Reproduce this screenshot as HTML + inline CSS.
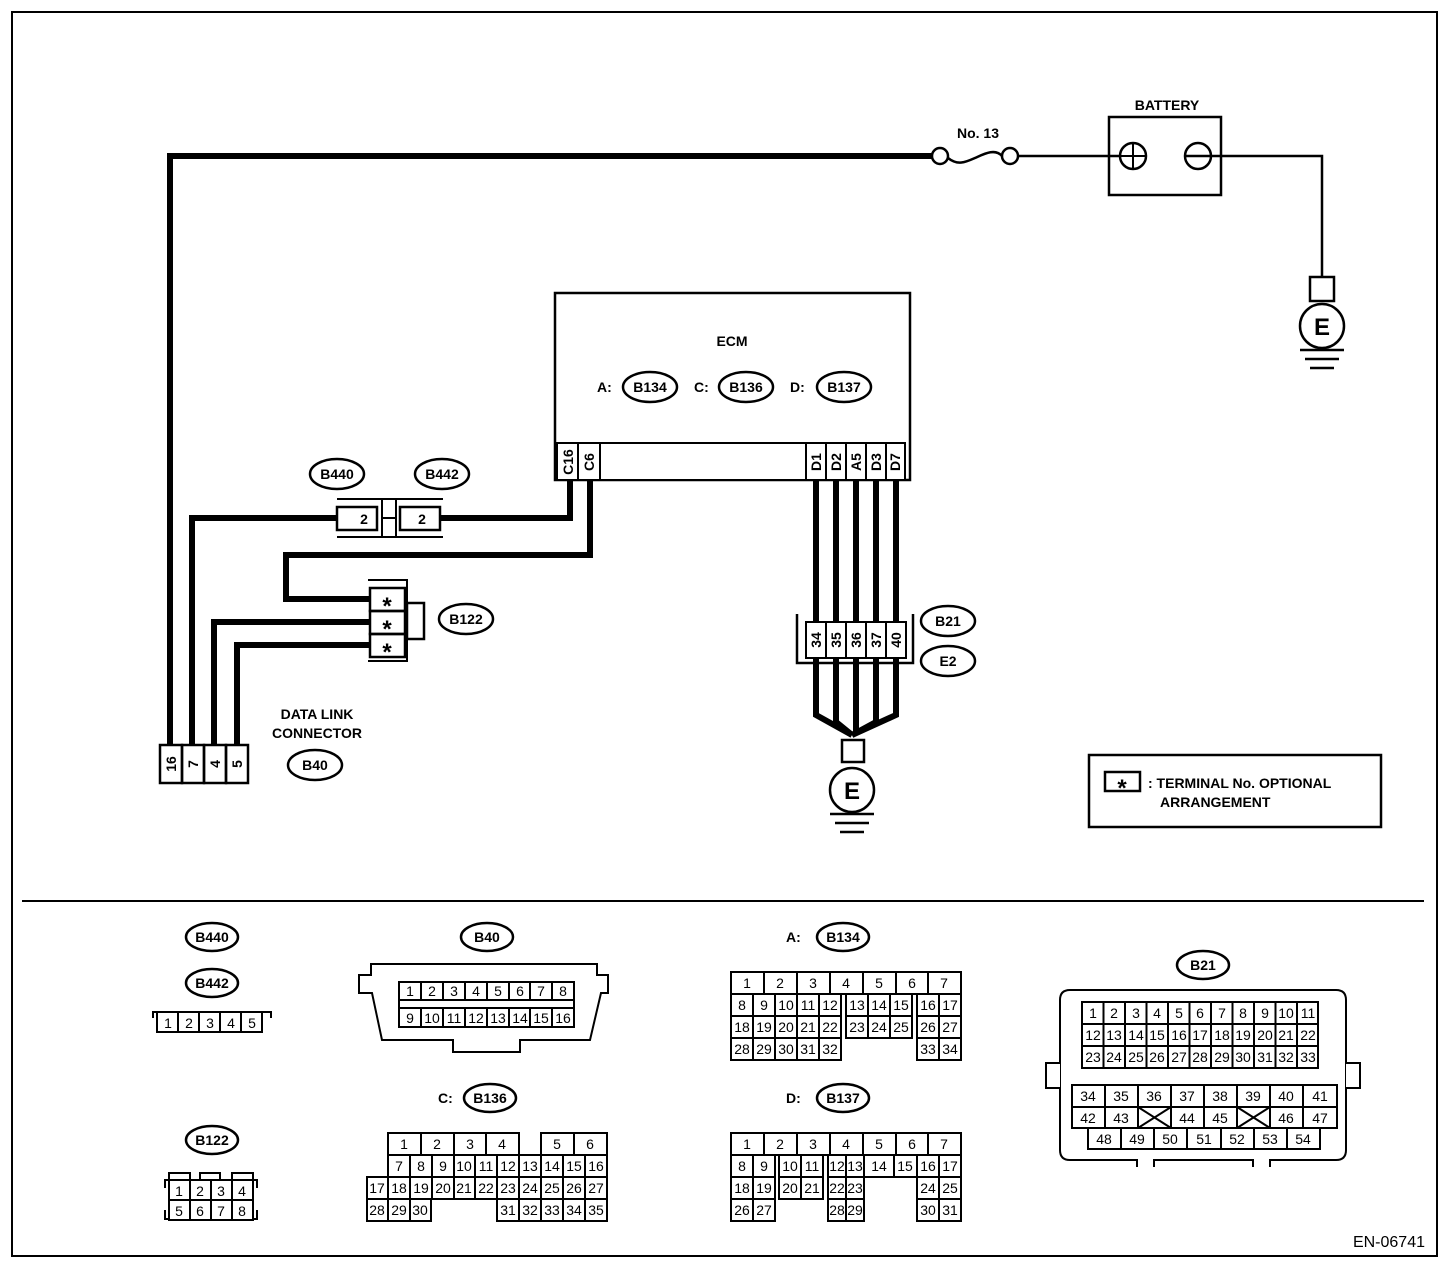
<!DOCTYPE html>
<html><head><meta charset="utf-8"><style>
html,body{margin:0;padding:0;background:#fff}
svg{display:block}
text{font-family:"Liberation Sans",Arial,sans-serif;fill:#000}
.b{font-weight:bold;font-size:14px}
.n{font-size:14px;text-anchor:middle}
.c{fill:#fff;stroke:#000;stroke-width:2}
.o{fill:#fff;stroke:#000;stroke-width:2.5}
.w{fill:none;stroke:#000;stroke-width:6}
.t{fill:none;stroke:#000;stroke-width:2.5}
.s{font-weight:bold;font-size:24px;text-anchor:middle}
</style></head><body>
<svg width="1456" height="1268" viewBox="0 0 1456 1268" xmlns="http://www.w3.org/2000/svg">
<rect x="12" y="12" width="1425" height="1244" fill="none" stroke="#000" stroke-width="2"/>
<line x1="22" y1="901" x2="1424" y2="901" stroke="#000" stroke-width="2"/>

<polyline class="w" points="932,156 170,156 170,745"/>
<circle cx="940" cy="156" r="8" class="o"/>
<circle cx="1010" cy="156" r="8" class="o"/>
<path d="M948,158 C958,166 966,162 975,158 S995,148 1002,156" class="t"/>
<text x="978" y="138" class="b" text-anchor="middle">No. 13</text>
<line x1="1018" y1="156" x2="1120" y2="156" stroke="#000" stroke-width="2.5"/>
<rect x="1109" y="117" width="112" height="78" class="t"/>
<text x="1167" y="110" class="b" text-anchor="middle">BATTERY</text>
<circle cx="1133" cy="156" r="13" class="t"/>
<line x1="1120" y1="156" x2="1146" y2="156" stroke="#000" stroke-width="2"/>
<line x1="1133" y1="143" x2="1133" y2="169" stroke="#000" stroke-width="2"/>
<circle cx="1198" cy="156" r="13" class="t"/>
<polyline points="1185,156 1322,156 1322,277" class="t"/>
<rect x="1310" y="277" width="24" height="24" class="t"/>
<circle cx="1322" cy="326" r="22" class="t"/>
<text x="1322" y="335" font-size="24" font-weight="bold" text-anchor="middle">E</text>
<line x1="1300" y1="350" x2="1344" y2="350" stroke="#000" stroke-width="2.5"/>
<line x1="1305" y1="359" x2="1339" y2="359" stroke="#000" stroke-width="2.5"/>
<line x1="1310" y1="368" x2="1334" y2="368" stroke="#000" stroke-width="2.5"/>

<rect x="555" y="293" width="355" height="187" class="t"/>
<text x="732" y="346" class="b" text-anchor="middle">ECM</text>
<text x="597" y="392" class="b">A:</text>
<ellipse cx="650" cy="387" rx="27" ry="15" class="o"/><text x="650" y="392" class="b" text-anchor="middle">B134</text>
<text x="694" y="392" class="b">C:</text>
<ellipse cx="746" cy="387" rx="27" ry="15" class="o"/><text x="746" y="392" class="b" text-anchor="middle">B136</text>
<text x="790" y="392" class="b">D:</text>
<ellipse cx="844" cy="387" rx="27" ry="15" class="o"/><text x="844" y="392" class="b" text-anchor="middle">B137</text>
<rect x="557" y="443" width="348" height="37" class="c"/>
<rect x="557" y="443" width="21" height="37" class="c"/><rect x="578" y="443" width="22" height="37" class="c"/>
<rect x="806" y="443" width="20" height="37" class="c"/><rect x="826" y="443" width="20" height="37" class="c"/><rect x="846" y="443" width="20" height="37" class="c"/><rect x="866" y="443" width="20" height="37" class="c"/><rect x="886" y="443" width="19" height="37" class="c"/>
<g class="b" font-size="14">
<text transform="translate(573,462) rotate(-90)" text-anchor="middle">C16</text>
<text transform="translate(594,462) rotate(-90)" text-anchor="middle">C6</text>
<text transform="translate(821,462) rotate(-90)" text-anchor="middle">D1</text>
<text transform="translate(841,462) rotate(-90)" text-anchor="middle">D2</text>
<text transform="translate(861,462) rotate(-90)" text-anchor="middle">A5</text>
<text transform="translate(881,462) rotate(-90)" text-anchor="middle">D3</text>
<text transform="translate(900,462) rotate(-90)" text-anchor="middle">D7</text>
</g>

<polyline class="w" points="570,480 570,518 440,518"/>
<polyline class="w" points="337,518 192,518 192,745"/>
<polyline class="w" points="590,480 590,555 286,555 286,599 370,599"/>
<polyline class="w" points="370,622 214,622 214,745"/>
<polyline class="w" points="370,645 237,645 237,745"/>
<line x1="337" y1="499" x2="443" y2="499" stroke="#000" stroke-width="2"/>
<line x1="337" y1="537" x2="443" y2="537" stroke="#000" stroke-width="2"/>
<rect x="337" y="507" width="40" height="23" class="t"/><text x="364" y="524" class="b" text-anchor="middle">2</text>
<rect x="400" y="507" width="40" height="23" class="t"/><text x="422" y="524" class="b" text-anchor="middle">2</text>
<rect x="382" y="499" width="14" height="38" fill="#fff" stroke="#000" stroke-width="2"/>
<line x1="382" y1="518" x2="396" y2="518" stroke="#000" stroke-width="2"/>
<ellipse cx="337" cy="474" rx="27" ry="15" class="o"/><text x="337" y="479" class="b" text-anchor="middle">B440</text>
<ellipse cx="442" cy="474" rx="27" ry="15" class="o"/><text x="442" y="479" class="b" text-anchor="middle">B442</text>

<line x1="368" y1="580" x2="408" y2="580" stroke="#000" stroke-width="2"/>
<line x1="368" y1="661" x2="408" y2="661" stroke="#000" stroke-width="2"/>
<line x1="407" y1="580" x2="407" y2="661" stroke="#000" stroke-width="2"/>
<rect x="370" y="588" width="35" height="23" class="t"/>
<rect x="370" y="611" width="35" height="23" class="t"/>
<rect x="370" y="634" width="35" height="23" class="t"/>
<text x="387" y="614" class="s">*</text>
<text x="387" y="637" class="s">*</text>
<text x="387" y="660" class="s">*</text>
<rect x="407" y="603" width="17" height="36" class="t"/>
<ellipse cx="466" cy="619" rx="27" ry="15" class="o"/><text x="466" y="624" class="b" text-anchor="middle">B122</text>

<rect x="160" y="745" width="22" height="38" class="t"/><rect x="182" y="745" width="22" height="38" class="t"/><rect x="204" y="745" width="22" height="38" class="t"/><rect x="226" y="745" width="22" height="38" class="t"/>
<g class="b" font-size="14">
<text transform="translate(176,764) rotate(-90)" text-anchor="middle">16</text>
<text transform="translate(198,764) rotate(-90)" text-anchor="middle">7</text>
<text transform="translate(220,764) rotate(-90)" text-anchor="middle">4</text>
<text transform="translate(242,764) rotate(-90)" text-anchor="middle">5</text>
</g>
<text x="317" y="719" class="b" text-anchor="middle">DATA LINK</text>
<text x="317" y="738" class="b" text-anchor="middle">CONNECTOR</text>
<ellipse cx="315" cy="765" rx="27" ry="15" class="o"/><text x="315" y="770" class="b" text-anchor="middle">B40</text>

<g class="w">
<line x1="816" y1="480" x2="816" y2="622"/><line x1="836" y1="480" x2="836" y2="622"/><line x1="856" y1="480" x2="856" y2="622"/><line x1="876" y1="480" x2="876" y2="622"/><line x1="896" y1="480" x2="896" y2="622"/>
<polyline points="816,658 816,715 852,735"/><polyline points="836,658 836,722 852,735"/><polyline points="856,658 856,735"/><polyline points="876,658 876,722 852,735"/><polyline points="896,658 896,715 852,735"/>
</g>
<polyline points="797,614 797,663 913,663 913,614" fill="none" stroke="#000" stroke-width="2.5"/>
<rect x="806" y="622" width="20" height="36" class="c"/><rect x="826" y="622" width="20" height="36" class="c"/><rect x="846" y="622" width="20" height="36" class="c"/><rect x="866" y="622" width="20" height="36" class="c"/><rect x="886" y="622" width="20" height="36" class="c"/>
<g class="b" font-size="14">
<text transform="translate(821,640) rotate(-90)" text-anchor="middle">34</text>
<text transform="translate(841,640) rotate(-90)" text-anchor="middle">35</text>
<text transform="translate(861,640) rotate(-90)" text-anchor="middle">36</text>
<text transform="translate(881,640) rotate(-90)" text-anchor="middle">37</text>
<text transform="translate(901,640) rotate(-90)" text-anchor="middle">40</text>
</g>
<ellipse cx="948" cy="621" rx="27" ry="15" class="o"/><text x="948" y="626" class="b" text-anchor="middle">B21</text>
<ellipse cx="948" cy="661" rx="27" ry="15" class="o"/><text x="948" y="666" class="b" text-anchor="middle">E2</text>
<rect x="842" y="740" width="22" height="22" class="t"/>
<circle cx="852" cy="790" r="22" class="t"/>
<text x="852" y="799" font-size="24" font-weight="bold" text-anchor="middle">E</text>
<line x1="830" y1="814" x2="874" y2="814" stroke="#000" stroke-width="2.5"/>
<line x1="835" y1="823" x2="869" y2="823" stroke="#000" stroke-width="2.5"/>
<line x1="840" y1="832" x2="864" y2="832" stroke="#000" stroke-width="2.5"/>

<rect x="1089" y="755" width="292" height="72" class="t"/>
<rect x="1105" y="772" width="35" height="19" class="t"/>
<text x="1122" y="796" class="s">*</text>
<text x="1148" y="788" class="b">: TERMINAL No. OPTIONAL</text>
<text x="1160" y="807" class="b">ARRANGEMENT</text>

<ellipse cx="212" cy="937" rx="26" ry="14" class="o"/><text x="212" y="942" class="b" text-anchor="middle">B440</text>
<ellipse cx="212" cy="983" rx="26" ry="14" class="o"/><text x="212" y="988" class="b" text-anchor="middle">B442</text>
<path d="M153,1018 V1012 H271 V1018" fill="none" stroke="#000" stroke-width="2"/>
<g class="c"><rect x="157" y="1012" width="21" height="20"/><rect x="178" y="1012" width="21" height="20"/><rect x="199" y="1012" width="21" height="20"/><rect x="220" y="1012" width="21" height="20"/><rect x="241" y="1012" width="21" height="20"/></g>
<g class="n" font-size="15"><text x="168" y="1028">1</text><text x="189" y="1028">2</text><text x="210" y="1028">3</text><text x="231" y="1028">4</text><text x="252" y="1028">5</text></g>

<ellipse cx="212" cy="1140" rx="26" ry="14" class="o"/><text x="212" y="1145" class="b" text-anchor="middle">B122</text>
<path d="M169,1180 V1173 H190 V1180 M200,1180 V1173 H220 V1180 M232,1180 V1173 H253 V1180 M165,1188 V1180 H169 M253,1180 H257 V1188 M165,1210 V1219 H169 M253,1219 H257 V1210" fill="none" stroke="#000" stroke-width="2"/>
<g class="c"><rect x="169" y="1180" width="21" height="20"/><rect x="190" y="1180" width="21" height="20"/><rect x="211" y="1180" width="21" height="20"/><rect x="232" y="1180" width="21" height="20"/><rect x="169" y="1200" width="21" height="20"/><rect x="190" y="1200" width="21" height="20"/><rect x="211" y="1200" width="21" height="20"/><rect x="232" y="1200" width="21" height="20"/></g>
<g class="n" font-size="15"><text x="179" y="1196">1</text><text x="200" y="1196">2</text><text x="221" y="1196">3</text><text x="242" y="1196">4</text><text x="179" y="1216">5</text><text x="200" y="1216">6</text><text x="221" y="1216">7</text><text x="242" y="1216">8</text></g>

<ellipse cx="487" cy="937" rx="26" ry="14" class="o"/><text x="487" y="942" class="b" text-anchor="middle">B40</text>
<polygon points="359,975 371,975 371,964 597,964 597,975 608,975 608,993 601,993 590,1040 520,1040 520,1052 453,1052 453,1040 382,1040 372,993 359,993" fill="#fff" stroke="#000" stroke-width="2"/>
<rect x="399" y="982" width="175" height="45" class="c"/>
<line x1="399" y1="1000" x2="574" y2="1000" stroke="#000" stroke-width="2"/>
<line x1="399" y1="1008" x2="574" y2="1008" stroke="#000" stroke-width="2"/>
<g stroke="#000" stroke-width="2"><line x1="421" y1="982" x2="421" y2="1000"/><line x1="443" y1="982" x2="443" y2="1000"/><line x1="465" y1="982" x2="465" y2="1000"/><line x1="487" y1="982" x2="487" y2="1000"/><line x1="509" y1="982" x2="509" y2="1000"/><line x1="530" y1="982" x2="530" y2="1000"/><line x1="552" y1="982" x2="552" y2="1000"/>
<line x1="421" y1="1008" x2="421" y2="1027"/><line x1="443" y1="1008" x2="443" y2="1027"/><line x1="465" y1="1008" x2="465" y2="1027"/><line x1="487" y1="1008" x2="487" y2="1027"/><line x1="509" y1="1008" x2="509" y2="1027"/><line x1="530" y1="1008" x2="530" y2="1027"/><line x1="552" y1="1008" x2="552" y2="1027"/></g>
<g class="n"><text x="410" y="996">1</text><text x="432" y="996">2</text><text x="454" y="996">3</text><text x="476" y="996">4</text><text x="498" y="996">5</text><text x="520" y="996">6</text><text x="541" y="996">7</text><text x="563" y="996">8</text>
<text x="410" y="1023">9</text><text x="432" y="1023">10</text><text x="454" y="1023">11</text><text x="476" y="1023">12</text><text x="498" y="1023">13</text><text x="520" y="1023">14</text><text x="541" y="1023">15</text><text x="563" y="1023">16</text></g>

<text x="438" y="1103" class="b">C:</text>
<ellipse cx="490" cy="1098" rx="26" ry="14" class="o"/><text x="490" y="1103" class="b" text-anchor="middle">B136</text>
<g class="c">
<rect x="388" y="1133" width="33" height="22"/><rect x="421" y="1133" width="33" height="22"/><rect x="454" y="1133" width="32" height="22"/><rect x="486" y="1133" width="33" height="22"/><rect x="541" y="1133" width="33" height="22"/><rect x="574" y="1133" width="33" height="22"/>
<rect x="388" y="1155" width="22" height="22"/><rect x="410" y="1155" width="22" height="22"/><rect x="432" y="1155" width="22" height="22"/><rect x="454" y="1155" width="21" height="22"/><rect x="475" y="1155" width="22" height="22"/><rect x="497" y="1155" width="22" height="22"/><rect x="519" y="1155" width="22" height="22"/><rect x="541" y="1155" width="22" height="22"/><rect x="563" y="1155" width="22" height="22"/><rect x="585" y="1155" width="22" height="22"/>
<rect x="367" y="1177" width="21" height="22"/><rect x="388" y="1177" width="22" height="22"/><rect x="410" y="1177" width="22" height="22"/><rect x="432" y="1177" width="22" height="22"/><rect x="454" y="1177" width="21" height="22"/><rect x="475" y="1177" width="22" height="22"/><rect x="497" y="1177" width="22" height="22"/><rect x="519" y="1177" width="22" height="22"/><rect x="541" y="1177" width="22" height="22"/><rect x="563" y="1177" width="22" height="22"/><rect x="585" y="1177" width="22" height="22"/>
<rect x="367" y="1199" width="21" height="22"/><rect x="388" y="1199" width="22" height="22"/><rect x="410" y="1199" width="21" height="22"/><rect x="497" y="1199" width="22" height="22"/><rect x="519" y="1199" width="22" height="22"/><rect x="541" y="1199" width="22" height="22"/><rect x="563" y="1199" width="22" height="22"/><rect x="585" y="1199" width="22" height="22"/>
</g>
<g class="n">
<text x="404" y="1149">1</text><text x="437" y="1149">2</text><text x="470" y="1149">3</text><text x="502" y="1149">4</text><text x="557" y="1149">5</text><text x="590" y="1149">6</text>
<text x="399" y="1171">7</text><text x="421" y="1171">8</text><text x="443" y="1171">9</text><text x="464" y="1171">10</text><text x="486" y="1171">11</text><text x="508" y="1171">12</text><text x="530" y="1171">13</text><text x="552" y="1171">14</text><text x="574" y="1171">15</text><text x="596" y="1171">16</text>
<text x="377" y="1193">17</text><text x="399" y="1193">18</text><text x="421" y="1193">19</text><text x="443" y="1193">20</text><text x="464" y="1193">21</text><text x="486" y="1193">22</text><text x="508" y="1193">23</text><text x="530" y="1193">24</text><text x="552" y="1193">25</text><text x="574" y="1193">26</text><text x="596" y="1193">27</text>
<text x="377" y="1215">28</text><text x="399" y="1215">29</text><text x="420" y="1215">30</text><text x="508" y="1215">31</text><text x="530" y="1215">32</text><text x="552" y="1215">33</text><text x="574" y="1215">34</text><text x="596" y="1215">35</text>
</g>

<text x="786" y="942" class="b">A:</text>
<ellipse cx="843" cy="937" rx="26" ry="14" class="o"/><text x="843" y="942" class="b" text-anchor="middle">B134</text>
<g class="c">
<rect x="731" y="972" width="33" height="22"/><rect x="764" y="972" width="33" height="22"/><rect x="797" y="972" width="33" height="22"/><rect x="830" y="972" width="33" height="22"/><rect x="863" y="972" width="33" height="22"/><rect x="896" y="972" width="32" height="22"/><rect x="928" y="972" width="33" height="22"/>
<rect x="731" y="994" width="22" height="22"/><rect x="753" y="994" width="22" height="22"/><rect x="775" y="994" width="22" height="22"/><rect x="797" y="994" width="22" height="22"/><rect x="819" y="994" width="22" height="22"/><rect x="846" y="994" width="22" height="22"/><rect x="868" y="994" width="22" height="22"/><rect x="890" y="994" width="22" height="22"/><rect x="917" y="994" width="22" height="22"/><rect x="939" y="994" width="22" height="22"/>
<rect x="731" y="1016" width="22" height="22"/><rect x="753" y="1016" width="22" height="22"/><rect x="775" y="1016" width="22" height="22"/><rect x="797" y="1016" width="22" height="22"/><rect x="819" y="1016" width="22" height="22"/><rect x="846" y="1016" width="22" height="22"/><rect x="868" y="1016" width="22" height="22"/><rect x="890" y="1016" width="22" height="22"/><rect x="917" y="1016" width="22" height="22"/><rect x="939" y="1016" width="22" height="22"/>
<rect x="731" y="1038" width="22" height="22"/><rect x="753" y="1038" width="22" height="22"/><rect x="775" y="1038" width="22" height="22"/><rect x="797" y="1038" width="22" height="22"/><rect x="819" y="1038" width="22" height="22"/><rect x="917" y="1038" width="22" height="22"/><rect x="939" y="1038" width="22" height="22"/>
</g>
<g class="n">
<text x="747" y="988">1</text><text x="780" y="988">2</text><text x="813" y="988">3</text><text x="846" y="988">4</text><text x="879" y="988">5</text><text x="912" y="988">6</text><text x="944" y="988">7</text>
<text x="742" y="1010">8</text><text x="764" y="1010">9</text><text x="786" y="1010">10</text><text x="808" y="1010">11</text><text x="830" y="1010">12</text><text x="857" y="1010">13</text><text x="879" y="1010">14</text><text x="901" y="1010">15</text><text x="928" y="1010">16</text><text x="950" y="1010">17</text>
<text x="742" y="1032">18</text><text x="764" y="1032">19</text><text x="786" y="1032">20</text><text x="808" y="1032">21</text><text x="830" y="1032">22</text><text x="857" y="1032">23</text><text x="879" y="1032">24</text><text x="901" y="1032">25</text><text x="928" y="1032">26</text><text x="950" y="1032">27</text>
<text x="742" y="1054">28</text><text x="764" y="1054">29</text><text x="786" y="1054">30</text><text x="808" y="1054">31</text><text x="830" y="1054">32</text><text x="928" y="1054">33</text><text x="950" y="1054">34</text>
</g>

<text x="786" y="1103" class="b">D:</text>
<ellipse cx="843" cy="1098" rx="26" ry="14" class="o"/><text x="843" y="1103" class="b" text-anchor="middle">B137</text>
<g class="c">
<rect x="731" y="1133" width="33" height="22"/><rect x="764" y="1133" width="33" height="22"/><rect x="797" y="1133" width="33" height="22"/><rect x="830" y="1133" width="33" height="22"/><rect x="863" y="1133" width="33" height="22"/><rect x="896" y="1133" width="32" height="22"/><rect x="928" y="1133" width="33" height="22"/>
<rect x="731" y="1155" width="22" height="22"/><rect x="753" y="1155" width="22" height="22"/><rect x="779" y="1155" width="22" height="22"/><rect x="801" y="1155" width="22" height="22"/><rect x="828" y="1155" width="18" height="22"/><rect x="846" y="1155" width="18" height="22"/><rect x="864" y="1155" width="30" height="22"/><rect x="894" y="1155" width="23" height="22"/><rect x="917" y="1155" width="22" height="22"/><rect x="939" y="1155" width="22" height="22"/>
<rect x="731" y="1177" width="22" height="22"/><rect x="753" y="1177" width="22" height="22"/><rect x="779" y="1177" width="22" height="22"/><rect x="801" y="1177" width="22" height="22"/><rect x="828" y="1177" width="18" height="22"/><rect x="846" y="1177" width="18" height="22"/><rect x="917" y="1177" width="22" height="22"/><rect x="939" y="1177" width="22" height="22"/>
<rect x="731" y="1199" width="22" height="22"/><rect x="753" y="1199" width="22" height="22"/><rect x="828" y="1199" width="18" height="22"/><rect x="846" y="1199" width="18" height="22"/><rect x="917" y="1199" width="22" height="22"/><rect x="939" y="1199" width="22" height="22"/>
</g>
<g class="n">
<text x="747" y="1149">1</text><text x="780" y="1149">2</text><text x="813" y="1149">3</text><text x="846" y="1149">4</text><text x="879" y="1149">5</text><text x="912" y="1149">6</text><text x="944" y="1149">7</text>
<text x="742" y="1171">8</text><text x="764" y="1171">9</text><text x="790" y="1171">10</text><text x="812" y="1171">11</text><text x="837" y="1171">12</text><text x="855" y="1171">13</text><text x="879" y="1171">14</text><text x="905" y="1171">15</text><text x="928" y="1171">16</text><text x="950" y="1171">17</text>
<text x="742" y="1193">18</text><text x="764" y="1193">19</text><text x="790" y="1193">20</text><text x="812" y="1193">21</text><text x="837" y="1193">22</text><text x="855" y="1193">23</text><text x="928" y="1193">24</text><text x="950" y="1193">25</text>
<text x="742" y="1215">26</text><text x="764" y="1215">27</text><text x="837" y="1215">28</text><text x="855" y="1215">29</text><text x="928" y="1215">30</text><text x="950" y="1215">31</text>
</g>

<ellipse cx="1203" cy="965" rx="26" ry="14" class="o"/><text x="1203" y="970" class="b" text-anchor="middle">B21</text>
<path d="M1137,1167 V1160 H1070 Q1060,1160 1060,1150 V1000 Q1060,990 1070,990 H1336 Q1346,990 1346,1000 V1150 Q1346,1160 1336,1160 H1270 V1167 M1154,1167 V1160 H1253 V1167" fill="none" stroke="#000" stroke-width="2"/>
<path d="M1060,1063 H1046 V1088 H1060 M1346,1063 H1360 V1088 H1346" fill="#fff" stroke="#000" stroke-width="2"/>
<rect x="1082" y="1002" width="236" height="66" class="c"/>
<g stroke="#000" stroke-width="2">
<line x1="1082" y1="1024" x2="1318" y2="1024"/><line x1="1082" y1="1046" x2="1318" y2="1046"/>
<line x1="1103.5" y1="1002" x2="1103.5" y2="1068"/><line x1="1125" y1="1002" x2="1125" y2="1068"/><line x1="1146.5" y1="1002" x2="1146.5" y2="1068"/><line x1="1168" y1="1002" x2="1168" y2="1068"/><line x1="1189.5" y1="1002" x2="1189.5" y2="1068"/><line x1="1211" y1="1002" x2="1211" y2="1068"/><line x1="1232.5" y1="1002" x2="1232.5" y2="1068"/><line x1="1254" y1="1002" x2="1254" y2="1068"/><line x1="1275.5" y1="1002" x2="1275.5" y2="1068"/><line x1="1297" y1="1002" x2="1297" y2="1068"/>
</g>
<g class="n">
<text x="1093" y="1018">1</text><text x="1114" y="1018">2</text><text x="1136" y="1018">3</text><text x="1157" y="1018">4</text><text x="1179" y="1018">5</text><text x="1200" y="1018">6</text><text x="1222" y="1018">7</text><text x="1243" y="1018">8</text><text x="1265" y="1018">9</text><text x="1286" y="1018">10</text><text x="1308" y="1018">11</text>
<text x="1093" y="1040">12</text><text x="1114" y="1040">13</text><text x="1136" y="1040">14</text><text x="1157" y="1040">15</text><text x="1179" y="1040">16</text><text x="1200" y="1040">17</text><text x="1222" y="1040">18</text><text x="1243" y="1040">19</text><text x="1265" y="1040">20</text><text x="1286" y="1040">21</text><text x="1308" y="1040">22</text>
<text x="1093" y="1062">23</text><text x="1114" y="1062">24</text><text x="1136" y="1062">25</text><text x="1157" y="1062">26</text><text x="1179" y="1062">27</text><text x="1200" y="1062">28</text><text x="1222" y="1062">29</text><text x="1243" y="1062">30</text><text x="1265" y="1062">31</text><text x="1286" y="1062">32</text><text x="1308" y="1062">33</text>
</g>
<rect x="1072" y="1085" width="265" height="43" class="c"/>
<rect x="1088" y="1128" width="232" height="21" class="c"/>
<g stroke="#000" stroke-width="2">
<line x1="1072" y1="1107" x2="1337" y2="1107"/>
<line x1="1105" y1="1085" x2="1105" y2="1128"/><line x1="1138" y1="1085" x2="1138" y2="1128"/><line x1="1171" y1="1085" x2="1171" y2="1128"/><line x1="1204" y1="1085" x2="1204" y2="1128"/><line x1="1237" y1="1085" x2="1237" y2="1128"/><line x1="1270" y1="1085" x2="1270" y2="1128"/><line x1="1303" y1="1085" x2="1303" y2="1128"/>
<line x1="1138" y1="1107" x2="1171" y2="1128"/><line x1="1171" y1="1107" x2="1138" y2="1128"/>
<line x1="1237" y1="1107" x2="1270" y2="1128"/><line x1="1270" y1="1107" x2="1237" y2="1128"/>
<line x1="1121" y1="1128" x2="1121" y2="1149"/><line x1="1154" y1="1128" x2="1154" y2="1149"/><line x1="1187" y1="1128" x2="1187" y2="1149"/><line x1="1221" y1="1128" x2="1221" y2="1149"/><line x1="1254" y1="1128" x2="1254" y2="1149"/><line x1="1287" y1="1128" x2="1287" y2="1149"/>
</g>
<g class="n">
<text x="1088" y="1101">34</text><text x="1121" y="1101">35</text><text x="1154" y="1101">36</text><text x="1187" y="1101">37</text><text x="1220" y="1101">38</text><text x="1253" y="1101">39</text><text x="1286" y="1101">40</text><text x="1320" y="1101">41</text>
<text x="1088" y="1123">42</text><text x="1121" y="1123">43</text><text x="1187" y="1123">44</text><text x="1220" y="1123">45</text><text x="1286" y="1123">46</text><text x="1320" y="1123">47</text>
<text x="1104" y="1144">48</text><text x="1137" y="1144">49</text><text x="1170" y="1144">50</text><text x="1204" y="1144">51</text><text x="1237" y="1144">52</text><text x="1270" y="1144">53</text><text x="1303" y="1144">54</text>
</g>

<text x="1425" y="1247" font-size="16" text-anchor="end">EN-06741</text>
</svg>
</body></html>
